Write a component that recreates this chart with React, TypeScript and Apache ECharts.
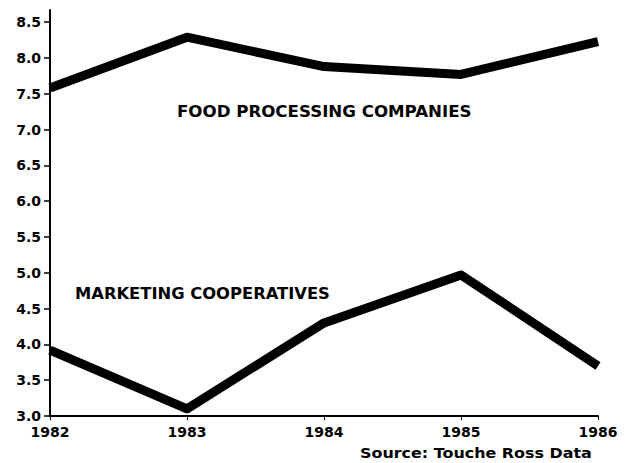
import React, { useEffect, useRef } from "react";
import * as echarts from "echarts";

const years = ["1982", "1983", "1984", "1985", "1986"];
const foodProcessing = [7.58, 8.29, 7.88, 7.77, 8.23];
const marketingCoops = [3.92, 3.1, 4.3, 4.97, 3.7];
const yTicks = [3.0, 3.5, 4.0, 4.5, 5.0, 5.5, 6.0, 6.5, 7.0, 7.5, 8.0, 8.5];

const FONT = "'DejaVu Sans', Verdana, sans-serif";

export default function App() {
  const ref = useRef<HTMLDivElement>(null);
  useEffect(() => {
    document.body.style.margin = "0";
    const chart = echarts.init(ref.current!, null, { renderer: "svg" });
    chart.setOption({
      animation: false,
      backgroundColor: "#ffffff",
      grid: { left: 50, right: 27, top: 10, bottom: 47 },
      xAxis: {
        type: "category",
        data: years,
        boundaryGap: false,
        axisLine: { lineStyle: { color: "#000", width: 2 } },
        axisTick: { show: true, length: 4, lineStyle: { color: "#000", width: 1 } },
        axisLabel: {
          color: "#000",
          fontFamily: FONT,
          fontWeight: "bold",
          fontSize: 14,
          margin: 9,
        },
        splitLine: { show: false },
      },
      yAxis: {
        type: "value",
        min: 3,
        max: 8.67,
        axisLine: { show: true, lineStyle: { color: "#000", width: 2 } },
        axisTick: {
          show: true,
          length: 6,
          customValues: yTicks,
          lineStyle: { color: "#000", width: 1.5 },
        },
        axisLabel: {
          color: "#000",
          fontFamily: FONT,
          fontWeight: "bold",
          fontSize: 14,
          margin: 9,
          customValues: yTicks,
          formatter: (v: number) => v.toFixed(1),
        },
        splitLine: { show: false },
      },
      series: [
        {
          name: "Food Processing Companies",
          type: "line",
          data: foodProcessing,
          symbol: "none",
          lineStyle: { color: "#000", width: 9, join: "round", cap: "butt" },
        },
        {
          name: "Marketing Cooperatives",
          type: "line",
          data: marketingCoops,
          symbol: "none",
          lineStyle: { color: "#000", width: 9, join: "round", cap: "butt" },
        },
      ],
      graphic: [
        {
          type: "text",
          x: 177,
          y: 104,
          scaleX: 1.11,
          style: {
            text: "FOOD PROCESSING COMPANIES",
            fill: "#000",
            font: `bold 15px ${FONT}`,
            verticalAlign: "top",
          },
        },
        {
          type: "text",
          x: 75,
          y: 286,
          scaleX: 1.09,
          style: {
            text: "MARKETING COOPERATIVES",
            fill: "#000",
            font: `bold 15px ${FONT}`,
            verticalAlign: "top",
          },
        },
        {
          type: "text",
          x: 360,
          y: 446,
          scaleX: 1.18,
          style: {
            text: "Source: Touche Ross Data",
            fill: "#000",
            font: `bold 13.5px ${FONT}`,
            verticalAlign: "top",
          },
        },
      ],
    });
    return () => chart.dispose();
  }, []);
  return <div ref={ref} style={{ width: 625, height: 463 }} />;
}
